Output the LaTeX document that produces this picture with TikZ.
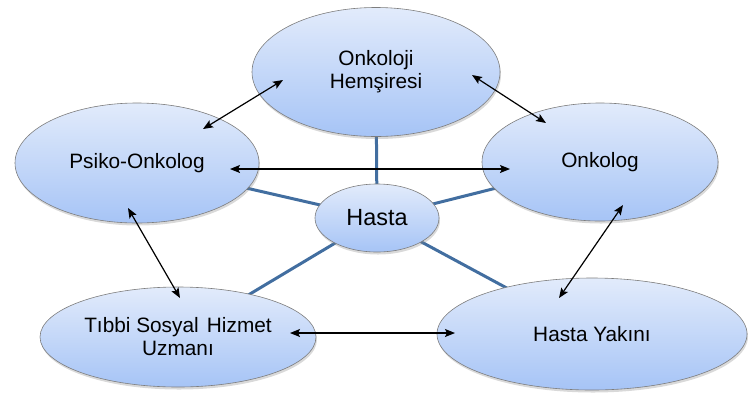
\documentclass[tikz,border=0pt]{standalone}
\usepackage{fontspec}
\setmainfont{Liberation Sans}
\usetikzlibrary{shapes.geometric,shadows,backgrounds,arrows.meta}
\definecolor{topc}{RGB}{226,235,251}
\definecolor{botc}{RGB}{166,196,246}
\definecolor{linkc}{RGB}{66,110,160}
\definecolor{edgec}{RGB}{125,125,125}
\begin{document}
\begin{tikzpicture}[x=1pt,y=-1pt,
  bub/.style={ellipse, draw=edgec, line width=0.6pt, top color=topc, bottom color=botc,
    inner sep=0pt, align=center, font=\fontsize{20.8}{23}\selectfont,
    drop shadow={shadow xshift=1pt, shadow yshift=-2.5pt, opacity=0.3}},
  link/.style={linkc, line width=3pt},
  biarrow/.style={{Stealth[length=10pt,width=8pt,inset=2pt]}-{Stealth[length=10pt,width=8pt,inset=2pt]}, line width=1.2pt, black}]
\useasboundingbox (0,0) rectangle (755,392);
\node[bub, minimum width=248pt, minimum height=129pt] (hem) at (376,72) {Onkoloji\\Hemşiresi};
\node[bub, minimum width=244pt, minimum height=120pt] (psi) at (137,163) {Psiko-Onkolog};
\node[bub, minimum width=236pt, minimum height=118pt] (onk) at (600,162) {Onkolog};
\node[bub, minimum width=276pt, minimum height=100pt] (tsh) at (178,337) {Tıbbi Sosyal\hspace{0.12em} Hizmet\\Uzmanı};
\node[bub, minimum width=310pt, minimum height=112pt] (yak) at (592,334) {Hasta Yakını};
\node[bub, minimum width=124pt, minimum height=68pt, font=\fontsize{23.4}{26}\selectfont] (has) at (377,218) {Hasta};
\begin{pgfonlayer}{background}
  \draw[link] (has.center) -- (hem.center);
  \draw[link] (has.center) -- (psi.center);
  \draw[link] (has.center) -- (onk.center);
  \draw[link] (has.center) -- (tsh.center);
  \draw[link] (has.center) -- (yak.center);
\end{pgfonlayer}
\coordinate (a1s) at (203,129); \coordinate (a1e) at (283,80);
\coordinate (a2s) at (472,75);  \coordinate (a2e) at (546,123);
\coordinate (a3s) at (230,169); \coordinate (a3e) at (510,169);
\coordinate (a4s) at (128,208); \coordinate (a4e) at (180,298);
\coordinate (a5s) at (623,205); \coordinate (a5e) at (559,298);
\coordinate (a6s) at (290,333); \coordinate (a6e) at (455,333);
\draw[biarrow] (a1s) -- (a1e);
\draw[biarrow] (a2s) -- (a2e);
\draw[biarrow] (a3s) -- (a3e);
\draw[biarrow] (a4s) -- (a4e);
\draw[biarrow] (a5s) -- (a5e);
\draw[biarrow] (a6s) -- (a6e);
\end{tikzpicture}
\end{document}
